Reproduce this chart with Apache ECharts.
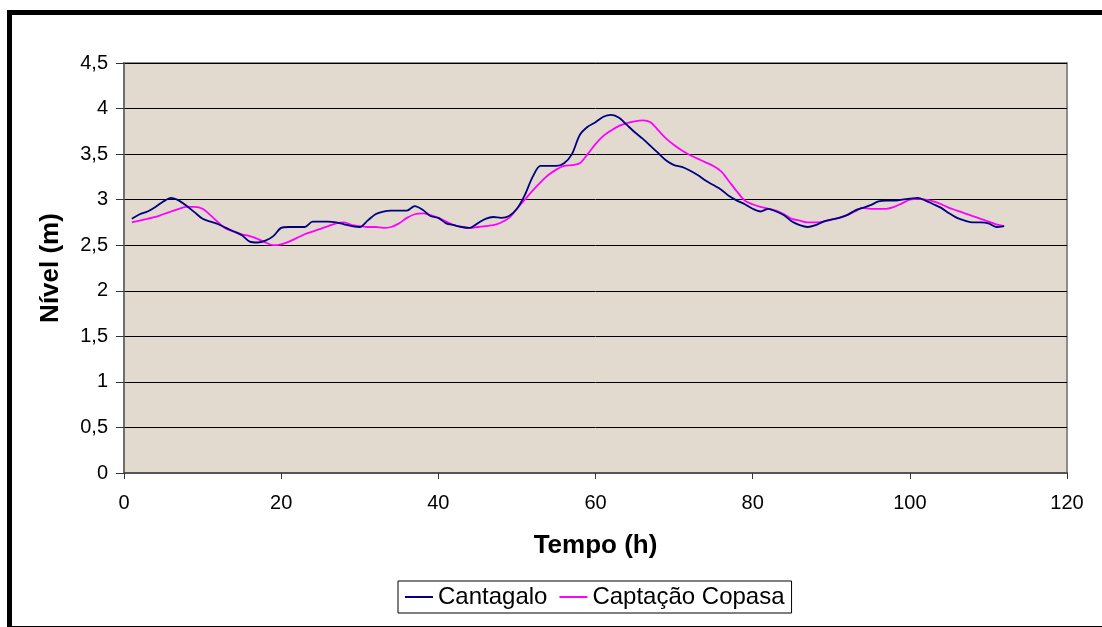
<!DOCTYPE html>
<html>
<head>
<meta charset="utf-8">
<title>Nível - Cantagalo x Captação Copasa</title>
<script src="https://cdn.jsdelivr.net/npm/echarts@6/dist/echarts.min.js"></script>
<style>
  html, body { margin: 0; padding: 0; width: 1102px; height: 627px; overflow: hidden; background: #fff; }
  #chart { position: absolute; left: 0; top: 0; width: 1102px; height: 627px; }
  #frame {
    position: absolute; left: 7px; top: 10px; width: 1120px; height: 617px;
    box-sizing: border-box; border-left: 5px solid #000; border-top: 5px solid #000;
    border-bottom: 1px solid #000; pointer-events: none;
  }
</style>
</head>
<body>
<div id="chart"></div>
<div id="frame"></div>
<script>
// Hourly water level (m)
const hours = [
  1,2,3,4,5,6,7,8,9,10,11,12,13,14,15,16,17,18,19,20,
  21,22,23,24,25,26,27,28,29,30,31,32,33,34,35,36,37,38,39,40,
  41,42,43,44,45,46,47,48,49,50,51,52,53,54,55,56,57,58,59,60,
  61,62,63,64,65,66,67,68,69,70,71,72,73,74,75,76,77,78,79,80,
  81,82,83,84,85,86,87,88,89,90,91,92,93,94,95,96,97,98,99,100,
  101,102,103,104,105,106,107,108,109,110,111,112
];

const cantagalo = [
  2.79,2.84,2.87,2.92,2.98,3.02,2.99,2.93,2.86,2.79,2.76,2.73,2.69,2.65,2.61,2.54,2.53,2.55,2.60,2.69,
  2.70,2.70,2.70,2.76,2.76,2.76,2.75,2.73,2.71,2.70,2.77,2.84,2.87,2.88,2.88,2.88,2.93,2.89,2.82,2.80,
  2.74,2.72,2.70,2.69,2.74,2.79,2.81,2.80,2.82,2.90,3.05,3.25,3.37,3.37,3.37,3.40,3.50,3.71,3.80,3.85,
  3.91,3.93,3.90,3.82,3.74,3.67,3.59,3.51,3.43,3.38,3.36,3.32,3.27,3.21,3.16,3.11,3.04,2.99,2.95,2.90,
  2.87,2.90,2.87,2.83,2.76,2.72,2.70,2.72,2.76,2.78,2.80,2.83,2.88,2.91,2.94,2.98,2.99,2.99,3.00,3.01,
  3.02,2.99,2.95,2.91,2.85,2.80,2.77,2.75,2.75,2.74,2.70,2.71
];

const captacaoCopasa = [
  2.75,2.77,2.79,2.81,2.84,2.87,2.90,2.92,2.92,2.90,2.83,2.75,2.68,2.65,2.62,2.60,2.57,2.53,2.50,2.51,
  2.54,2.58,2.62,2.65,2.68,2.71,2.74,2.75,2.72,2.71,2.70,2.70,2.69,2.70,2.74,2.80,2.84,2.85,2.83,2.80,
  2.76,2.72,2.70,2.69,2.70,2.71,2.72,2.75,2.80,2.90,3.00,3.10,3.19,3.27,3.33,3.37,3.38,3.40,3.50,3.61,
  3.70,3.76,3.81,3.84,3.86,3.87,3.85,3.76,3.67,3.60,3.54,3.49,3.45,3.41,3.37,3.31,3.20,3.09,2.99,2.95,
  2.92,2.90,2.88,2.84,2.79,2.77,2.75,2.75,2.76,2.78,2.80,2.83,2.87,2.91,2.90,2.90,2.90,2.92,2.96,3.00,
  3.01,3.00,2.98,2.95,2.91,2.88,2.85,2.82,2.79,2.76,2.73,2.71
];

const seriesNames = ['Cantagalo', 'Captação Copasa'];
const xTitle = 'Tempo (h)';
const yTitle = 'Nível (m)';

const pairs = (ys) => hours.map((h, i) => [h, ys[i]]);
const font = 'Liberation Sans, Arial, sans-serif';

const chart = echarts.init(document.getElementById('chart'), null, { renderer: 'canvas' });

chart.setOption({
  animation: false,
  backgroundColor: 'transparent',
  grid: {
    left: 124, right: 35, top: 63, bottom: 154,
    show: true, backgroundColor: '#E2DACE', borderColor: '#8c8c8c', borderWidth: 2
  },
  legend: {
    left: 398, top: 581,
    padding: [4, 7],
    borderColor: '#000', borderWidth: 1, borderRadius: 0,
    backgroundColor: '#fff',
    itemWidth: 28, itemHeight: 2, itemGap: 12,
    icon: 'rect',
    textStyle: { fontFamily: font, fontSize: 24, color: '#000' },
    data: seriesNames
  },
  xAxis: {
    type: 'value', min: 0, max: 120, interval: 20,
    name: xTitle, nameLocation: 'middle', nameGap: 60,
    nameTextStyle: { fontFamily: font, fontSize: 26, fontWeight: 'bold', color: '#000' },
    axisLine: { show: true, lineStyle: { color: '#555', width: 2 } },
    axisTick: { show: true, length: 6, lineStyle: { color: '#333', width: 1 } },
    axisLabel: { fontFamily: font, fontSize: 20, color: '#000', margin: 20 },
    splitLine: { show: false }
  },
  yAxis: {
    type: 'value', min: 0, max: 4.5, interval: 0.5,
    name: yTitle, nameLocation: 'middle', nameGap: 60,
    nameTextStyle: { fontFamily: font, fontSize: 26, fontWeight: 'bold', color: '#000' },
    axisLine: { show: true, lineStyle: { color: '#666', width: 1.5 } },
    axisTick: { show: true, length: 8, lineStyle: { color: '#333', width: 1 } },
    axisLabel: {
      fontFamily: font, fontSize: 20, color: '#000', margin: 16,
      formatter: (v) => String(v).replace('.', ',')
    },
    splitLine: { show: true, lineStyle: { color: '#000', width: 1 } }
  },
  series: [
    {
      name: seriesNames[0], type: 'line', data: pairs(cantagalo),
      smooth: 0.3, showSymbol: false, symbol: 'none',
      lineStyle: { color: '#000080', width: 1.8 }, itemStyle: { color: '#000080' }, z: 3
    },
    {
      name: seriesNames[1], type: 'line', data: pairs(captacaoCopasa),
      smooth: 0.3, showSymbol: false, symbol: 'none',
      lineStyle: { color: '#FF00FF', width: 1.8 }, itemStyle: { color: '#FF00FF' }, z: 2
    }
  ]
});
</script>
</body>
</html>
